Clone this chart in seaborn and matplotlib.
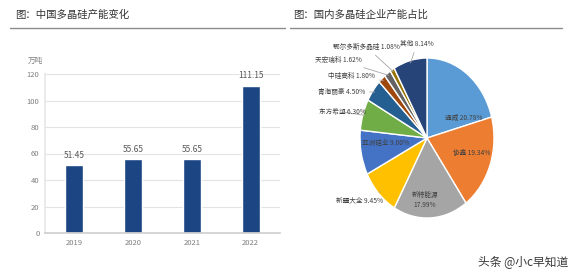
import numpy as np
import pandas as pd
import matplotlib
matplotlib.use("Agg")
import matplotlib.pyplot as plt
import seaborn as sns

# data
years = ["2019", "2020", "2021", "2022"]
capacity = [51.45, 55.65, 55.65, 111.15]

companies = ["通威", "协鑫", "新特能源", "新疆大全", "亚洲硅业", "东方希望",
             "青海丽豪", "中硅高科", "天宏瑞科", "鄂尔多斯多晶硅", "其他"]
shares = [20.78, 19.34, 17.99, 9.45, 9.00, 6.30, 4.50, 1.80, 1.62, 1.08, 8.14]
pie_colors = ["#5B9BD5", "#ED7D31", "#A5A5A5", "#FFC000", "#4472C4", "#70AD47",
              "#255E91", "#9E480E", "#636363", "#997300", "#264478"]

sns.set_theme(style="white")
plt.rcParams['font.family'] = ['Noto Sans CJK SC', 'DejaVu Sans']

W, H = 570, 276
fig = plt.figure(figsize=(W / 100, H / 100), dpi=100)
fig.patch.set_facecolor("white")


def px(x, y):
    return x / W, 1 - y / H


# titles and rules
fig.text(*px(15, 15), "图：中国多晶硅产能变化", fontsize=7.5, color="#333333", va="center")
fig.text(*px(293, 15), "图：国内多晶硅企业产能占比", fontsize=7.5, color="#333333", va="center")
fig.add_artist(plt.Line2D([10 / W, 285 / W], [1 - 28 / H] * 2, color="#8c8c8c", lw=1))
fig.add_artist(plt.Line2D([290 / W, 562 / W], [1 - 28 / H] * 2, color="#8c8c8c", lw=1))

# bar chart
ax = fig.add_axes([45 / W, 1 - 233 / H, 235 / W, 159 / H])
df = pd.DataFrame({"year": years, "capacity": capacity})
sns.barplot(data=df, x="year", y="capacity", color="#1B4583", width=0.31,
            saturation=1, ax=ax)
ax.set_ylim(0, 120)
ax.set_xlim(-0.5, 3.5)
ax.set_yticks(range(0, 121, 20))
ax.yaxis.grid(True, color="#e3e3e3", lw=0.8)
ax.set_axisbelow(True)
for s in ["top", "right"]:
    ax.spines[s].set_visible(False)
ax.spines["left"].set_color("#e8e8e8")
ax.spines["bottom"].set_color("#d0d0d0")
ax.tick_params(axis="both", labelsize=5.5, colors="#7f7f7f", length=0, pad=4)
ax.set_xlabel("")
ax.set_ylabel("")
for i, v in enumerate(capacity):
    ax.text(i, v + 4, f"{v:.2f}", ha="center", va="bottom", fontsize=6, color="#595959")
fig.text(*px(28, 61), "万吨", fontsize=5.5, color="#7f7f7f", va="center")

# pie chart (elliptical as in the source)
cx, cy, rx, ry = 427, 138, 67, 80
pax = fig.add_axes([(cx - rx) / W, 1 - (cy + ry) / H, 2 * rx / W, 2 * ry / H])
wedges, _ = pax.pie(shares, colors=pie_colors, startangle=90, counterclock=False,
                    wedgeprops=dict(edgecolor="white", linewidth=1))
pax.set_aspect("auto")
pax.set_xlim(-1, 1)
pax.set_ylim(-1, 1)


def to_data(x, y):
    return (x - cx) / rx, (cy - y) / ry


# label positions in pixels: (x, y, ha, outside)
label_pos = [
    (464, 118, "center", False),
    (472, 153, "center", False),
    (425, 200, "center", False),
    (383, 200, "right", True),
    (386, 143, "center", False),
    (366, 112, "right", True),
    (365, 92, "right", True),
    (375, 76, "right", True),
    (362, 60, "right", True),
    (400, 47, "right", True),
    (400, 44, "left", True),
]
for name, val, w, (lx, ly, ha, outside) in zip(companies, shares, wedges, label_pos):
    txt = f"{name} {val:.2f}%" if name != "新特能源" else f"{name}\n{val:.2f}%"
    tx, ty = to_data(lx, ly)
    if outside:
        mid = np.deg2rad((w.theta1 + w.theta2) / 2)
        ex, ey = 0.97 * np.cos(mid), 0.97 * np.sin(mid)
        pax.annotate(txt, xy=(ex, ey), xytext=(tx, ty), ha=ha, va="center",
                     fontsize=4.8, color="#404040", annotation_clip=False,
                     arrowprops=dict(arrowstyle="-", color="#a6a6a6", lw=0.6,
                                     shrinkA=1, shrinkB=0))
    else:
        pax.text(tx, ty, txt, ha=ha, va="center", fontsize=4.8, color="#404040",
                 linespacing=1.3)

# watermark
fig.text(*px(523, 262), "头条 @小c早知道", fontsize=8.5, color="#3a3a3a",
         ha="center", va="center")

fig.savefig("out.png", dpi=100)
